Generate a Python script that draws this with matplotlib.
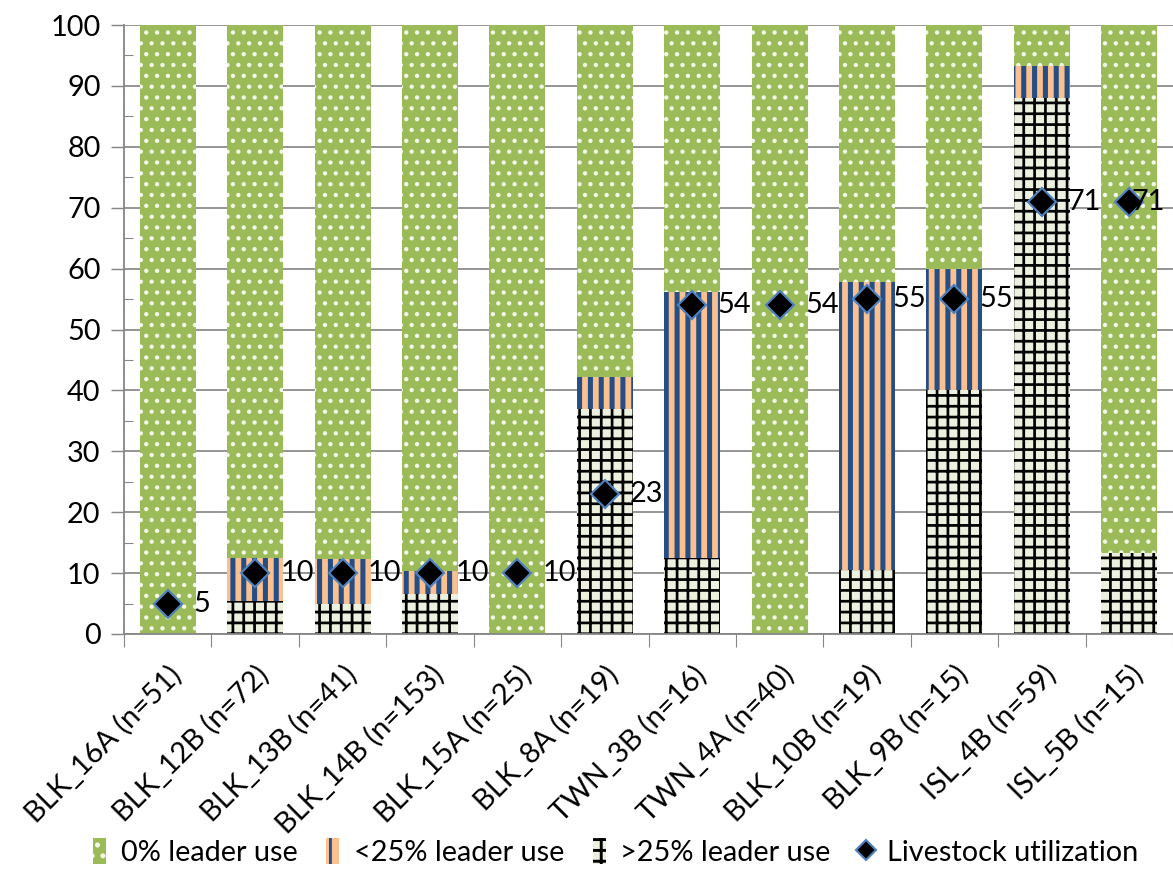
import numpy as np
import matplotlib as mpl
import matplotlib.pyplot as plt
from matplotlib.ticker import MultipleLocator

# Sites (x categories)
sites = ["BLK_16A (n=51)", "BLK_12B (n=72)", "BLK_13B (n=41)", "BLK_14B (n=153)",
         "BLK_15A (n=25)", "BLK_8A (n=19)", "TWN_3B (n=16)", "TWN_4A (n=40)",
         "BLK_10B (n=19)", "BLK_9B (n=15)", "ISL_4B (n=59)", "ISL_5B (n=15)"]

# Percent of plants in each leader-use class
high_use = [0, 5.5, 5.0, 6.5, 0, 37.0, 12.5, 0, 10.5, 40.0, 88.0, 13.3]   # >25%
low_use = [0, 7.0, 7.3, 3.8, 0, 5.2, 43.7, 0, 47.3, 20.0, 5.3, 0]         # <25%
zero_use = [100 - h - l for h, l in zip(high_use, low_use)]              # 0%

# Livestock utilization (%)
livestock = [5, 10, 10, 10, 10, 23, 54, 54, 55, 55, 71, 71]

DPI = 130
FS = 16
plt.rcParams['font.family'] = ['Lato', 'DejaVu Sans']
plt.rcParams['hatch.linewidth'] = 1.6

fig = plt.figure(figsize=(1173 / DPI, 869 / DPI), dpi=DPI)
ax = fig.add_axes([124 / 1173, 1 - 634 / 869, 1 - 124 / 1173, (634 - 25) / 869])

x = np.arange(len(sites))
w = 0.64
high = np.array(high_use)
low = np.array(low_use)
zero = np.array(zero_use)


def hatched_bar(bottom, height, face, hatch_col, hatch, hlw, label):
    bars = ax.bar(x, height, w, bottom=bottom, color=face, edgecolor=hatch_col,
                  hatch=hatch, linewidth=0, label=label, zorder=2)
    # per-bar hatch width (newer matplotlib only)
    for p in bars:
        if hasattr(p, 'set_hatch_linewidth'):
            p.set_hatch_linewidth(hlw)
    return bars


b_zero = hatched_bar(high + low, zero, '#9BBB59', '#F2F7E8', '..', 1.2, '0% leader use')
b_low = hatched_bar(high, low, '#FAC090', '#254E85', '||', 2.8, '<25% leader use')
b_high = hatched_bar(0, high, '#EBF1DE', 'black', '++', 1.5, '>25% leader use')

ln, = ax.plot(x, livestock, linestyle='none', marker='D', markersize=11,
              markerfacecolor='black', markeredgecolor='#4F81BD', markeredgewidth=1.2,
              zorder=5, label='Livestock utilization')
for i, (xi, v) in enumerate(zip(x, livestock)):
    # last label is pulled in so it stays inside the figure, as in the original
    dx = 14 if i < len(x) - 1 else 1.5
    ax.annotate(str(v), (xi, v), xytext=(dx, 0), textcoords='offset points',
                va='center', ha='left', fontsize=FS, zorder=6, annotation_clip=False)

ax.set_xlim(-0.5, len(sites) - 0.5)
ax.set_ylim(0, 100)
ax.yaxis.set_major_locator(MultipleLocator(10))
ax.yaxis.set_minor_locator(MultipleLocator(5))
ax.tick_params(axis='y', which='major', direction='out', length=7, color='#868686',
               labelsize=FS, pad=6)
ax.tick_params(axis='y', which='minor', direction='in', length=5, color='#868686')
ax.grid(axis='y', which='major', color='#8C8C8C', linewidth=1.0)
ax.set_axisbelow(True)

ax.set_xticks(x)
ax.set_xticklabels(sites, rotation=45, ha='right', rotation_mode='anchor', fontsize=FS)
ax.set_xticks(np.arange(-0.5, len(sites), 1.0), minor=True)
ax.tick_params(axis='x', which='major', length=0, pad=15)
ax.tick_params(axis='x', which='minor', direction='out', length=7, color='#868686')

for side in ['top', 'right']:
    ax.spines[side].set_visible(False)
for side in ['left', 'bottom']:
    ax.spines[side].set_color('#868686')
    ax.spines[side].set_linewidth(1.0)

fig.legend(handles=[b_zero, b_low, b_high, ln], loc='lower center',
           bbox_to_anchor=(0.525, -0.02), ncol=4, frameon=False, fontsize=FS,
           handlelength=0.45, handleheight=1.0, handletextpad=0.5, columnspacing=1.0,
           borderaxespad=0.3, markerscale=0.7)

fig.savefig('out.png', dpi=DPI)
